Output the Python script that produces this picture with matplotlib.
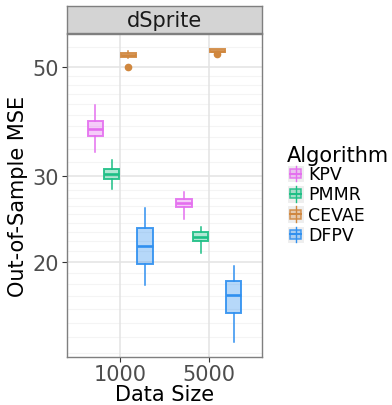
import numpy as np
import matplotlib
matplotlib.use("Agg")
import matplotlib.pyplot as plt
from matplotlib.patches import Rectangle
from matplotlib.lines import Line2D

# ---------------- data ----------------
data_sizes = ["1000", "5000"]
algorithms = ["KPV", "PMMR", "CEVAE", "DFPV"]
colors = ["#E46FEF", "#1DBF85", "#D0873E", "#2F90F0"]

# per algorithm: [value at 1000, value at 5000]
whislo = {"KPV": [33.5, 24.5], "PMMR": [28.2, 20.8], "CEVAE": [52.2, 53.0], "DFPV": [17.9, 13.7]}
q1     = {"KPV": [36.2, 25.85], "PMMR": [29.5, 22.05], "CEVAE": [52.4, 53.8], "DFPV": [19.8, 15.7]}
med    = {"KPV": [37.4, 26.4], "PMMR": [30.3, 22.5], "CEVAE": [53.0, 54.1], "DFPV": [21.5, 17.1]}
q3     = {"KPV": [38.8, 26.9], "PMMR": [31.0, 23.0], "CEVAE": [53.4, 54.6], "DFPV": [23.4, 18.25]}
whishi = {"KPV": [41.8, 27.8], "PMMR": [32.3, 23.6], "CEVAE": [53.9, 54.6], "DFPV": [25.7, 19.6]}
fliers = {"KPV": [[], []], "PMMR": [[], []], "CEVAE": [[50.0], [53.3]], "DFPV": [[], []]}

y_ticks = [20, 30, 50]

# ---------------- figure ----------------
W, H = 392, 406
fig = plt.figure(figsize=(W / 100, H / 100), dpi=100)

px_l, px_r, px_t, px_b = 66.7, 262.3, 35.0, 358.3
ax = fig.add_axes([px_l / W, 1 - px_b / H, (px_r - px_l) / W, (px_b - px_t) / H])
ax.set_yscale("log")
ax.set_xlim(0.4, 2.6)
ax.set_ylim(12.74, 58.5)

# grid
minor_vals = list(np.arange(11, 20, 1)) + list(np.arange(21, 30, 1)) + list(np.arange(32, 50, 2)) + [55]
for v in minor_vals:
    ax.axhline(v, color="#F4F4F4", lw=0.8, zorder=0)
for v in y_ticks:
    ax.axhline(v, color="#E3E3E3", lw=1.1, zorder=0)
for xv in [1, 2]:
    ax.axvline(xv, color="#E3E3E3", lw=1.1, zorder=0)

offsets = [-0.281, -0.094, 0.094, 0.281]
bw = 0.17
for k, alg in enumerate(algorithms):
    stats = []
    pos = []
    for i in range(len(data_sizes)):
        stats.append(dict(med=med[alg][i], q1=q1[alg][i], q3=q3[alg][i],
                          whislo=whislo[alg][i], whishi=whishi[alg][i],
                          fliers=fliers[alg][i]))
        pos.append(i + 1 + offsets[k])
    c = colors[k]
    ax.bxp(stats, positions=pos, widths=bw, patch_artist=True, showcaps=False,
           boxprops=dict(facecolor=matplotlib.colors.to_rgba(c, 0.35),
                         edgecolor=matplotlib.colors.to_rgba(c, 0.9), lw=1.4),
           whiskerprops=dict(color=c, lw=1.1),
           medianprops=dict(color=c, lw=1.9),
           flierprops=dict(marker="o", markerfacecolor=c, markeredgecolor=c,
                           markersize=4.5, linestyle="none"),
           manage_ticks=False, zorder=3)

ax.set_xticks([1, 2])
ax.set_xticklabels(data_sizes)
ax.set_yticks(y_ticks)
ax.set_yticklabels([str(v) for v in y_ticks])
ax.yaxis.set_minor_locator(matplotlib.ticker.NullLocator())
ax.tick_params(axis="both", which="major", length=3.5, width=0.8, color="#333333",
               labelsize=15, labelcolor="#4D4D4D", pad=2)
ax.tick_params(axis="x", pad=1.5)
for s in ax.spines.values():
    s.set_color("#7F7F7F")
    s.set_linewidth(1.0)

ax.set_xlabel("Data Size", fontsize=15, color="black", labelpad=0)
ax.set_ylabel("Out-of-Sample MSE", fontsize=15, color="black", labelpad=3)

# strip
sax = fig.add_axes([px_l / W, 1 - 34.3 / H, (px_r - px_l) / W, (34.3 - 7) / H])
sax.set_facecolor("#D4D4D4")
sax.set_xticks([]); sax.set_yticks([])
for s in sax.spines.values():
    s.set_color("#7F7F7F"); s.set_linewidth(1.0)
sax.text(0.5, 0.47, "dSprite", ha="center", va="center", fontsize=15, color="#1A1A1A",
         transform=sax.transAxes)

# legend (drawn in pixel coordinates)
lax = fig.add_axes([0, 0, 1, 1])
lax.set_xlim(0, W); lax.set_ylim(H, 0)
lax.axis("off")
lax.text(287, 162.5, "Algorithm", fontsize=15, ha="left", va="baseline", color="black")
key_x0, key_w = 287, 17.5
for k, alg in enumerate(algorithms):
    cy = 174.5 + k * 20.3
    c = colors[k]
    lax.add_patch(Rectangle((key_x0, cy - key_w / 2), key_w, key_w,
                            facecolor="#EEEEEE", edgecolor="white", lw=0.8))
    cx = key_x0 + key_w / 2
    lax.add_line(Line2D([cx, cx], [cy - key_w / 2 + 1, cy + key_w / 2 - 1], color=c, lw=1.0))
    lax.add_patch(Rectangle((key_x0 + 3, cy - 4.5), key_w - 6, 9,
                            facecolor=matplotlib.colors.to_rgba(c, 0.35),
                            edgecolor=matplotlib.colors.to_rgba(c, 0.9), lw=1.1))
    lax.add_line(Line2D([key_x0 + 3, key_x0 + key_w - 3], [cy, cy], color=c, lw=1.4))
    lax.text(308, cy + 0.5, alg, fontsize=12.5, ha="left", va="center", color="black")

fig.savefig("out.png", dpi=100)
